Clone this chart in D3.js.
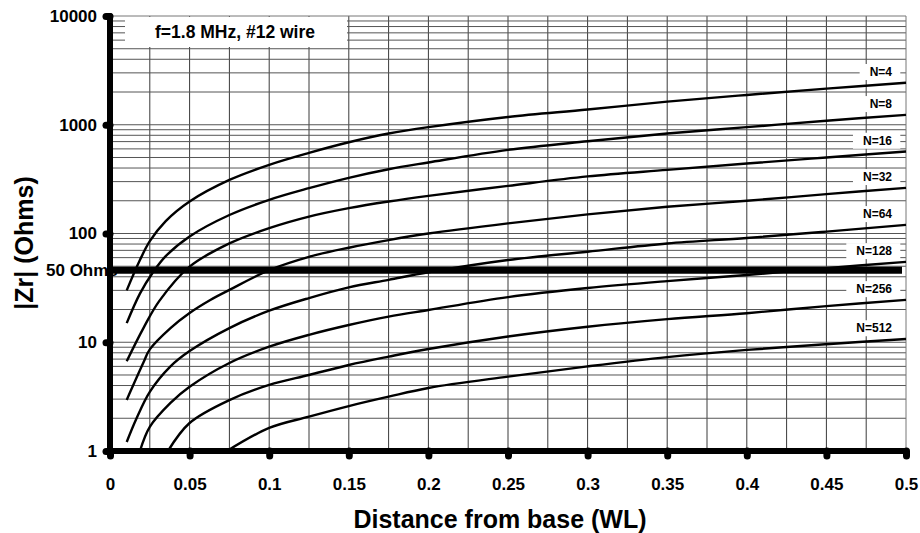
<!DOCTYPE html>
<html>
<head>
<meta charset="utf-8">
<script src="https://cdn.jsdelivr.net/npm/d3@7"></script>
<style>
  body { margin: 0; background: #fff; }
  text { font-family: "Liberation Sans", Arial, sans-serif; font-weight: bold; fill: #000; }
</style>
</head>
<body>
<script>
    // curves: [distance (WL), |Zr| (Ohms)]
    var n4 = [[0.0105,30],[0.0188,57],[0.025,85],[0.035,130],[0.05,197],[0.075,311],[0.1,428],[0.125,551],
              [0.15,690],[0.175,830],[0.2,950],[0.25,1180],[0.3,1380],[0.35,1630],[0.4,1880],[0.45,2150],[0.5,2430]];
    var n8 = [[0.0105,15],[0.0188,28],[0.027,44],[0.035,62],[0.05,94],[0.075,148],[0.1,204],[0.125,261],[0.15,325],
              [0.175,390],[0.2,450],[0.25,588],[0.3,705],[0.35,830],[0.4,950],[0.45,1090],[0.5,1233]];
    var n16 = [[0.0105,6.7],[0.021,13.5],[0.031,24],[0.05,49.6],[0.075,81],[0.1,112],[0.125,143],[0.15,171],
               [0.175,197],[0.2,222],[0.25,274],[0.3,335],[0.35,385],[0.4,440],[0.45,500],[0.5,567]];
    var n32 = [[0.0105,2.95],[0.021,6.5],[0.025,8.6],[0.038,13.5],[0.05,18.6],[0.063,24.5],[0.075,30.3],[0.1,46],
               [0.125,61],[0.15,74],[0.175,87],[0.2,100],[0.25,124],[0.3,150],[0.35,176],[0.4,200],[0.45,230],[0.5,263]];
    var n64 = [[0.0105,1.21],[0.0167,2.0],[0.025,3.5],[0.038,6.0],[0.05,8.3],[0.075,13.5],[0.1,19.5],[0.125,25.5],
               [0.15,32],[0.175,37.5],[0.2,44],[0.25,57],[0.3,68],[0.35,81],[0.4,91],[0.45,104],[0.5,120]];
    var n128 = [[0.0188,1],[0.025,1.67],[0.038,2.77],[0.05,3.9],[0.075,6.45],[0.1,9.1],[0.125,11.7],[0.15,14.4],
                [0.175,17.2],[0.2,19.8],[0.25,26],[0.3,31.5],[0.35,36.5],[0.4,41.5],[0.45,48],[0.5,54.8]];
    var n256 = [[0.0364,1],[0.05,1.81],[0.075,2.94],[0.1,4.05],[0.125,5.0],[0.15,6.18],[0.175,7.37],[0.2,8.67],
                [0.25,11.3],[0.3,13.9],[0.35,16.3],[0.4,18.5],[0.45,21.5],[0.5,24.5]];
    var n512 = [[0.0735,1],[0.1,1.63],[0.125,2.07],[0.15,2.59],[0.175,3.16],[0.2,3.8],[0.25,4.83],[0.3,6.0],
                [0.35,7.3],[0.4,8.5],[0.45,9.6],[0.5,10.7]];

    var seriesNames = ['N=4', 'N=8', 'N=16', 'N=32', 'N=64', 'N=128', 'N=256', 'N=512'];
    var seriesData = [n4, n8, n16, n32, n64, n128, n256, n512];

    var xTicks = [0, 0.05, 0.1, 0.15, 0.2, 0.25, 0.3, 0.35, 0.4, 0.45, 0.5];
    var yTicks = [1, 10, 100, 1000, 10000];
    var refLevel = 46;          // the heavy "50 Ohms" line, as drawn on the scan
    var refLabel = '50 Ohms';
    var chartTitle = 'f=1.8 MHz, #12 wire';

    // set the dimensions and margins of the graph
    var margin = {top: 16, right: 14, bottom: 82, left: 110},
        width = 920 - margin.left - margin.right,
        height = 533 - margin.top - margin.bottom;

    var x = d3.scaleLinear().domain([0, 0.5]).range([0, width]);
    var y = d3.scaleLog().domain([1, 10000]).range([height, 0]);

    var svg = d3.select('body').append('svg')
        .attr('width', width + margin.left + margin.right)
        .attr('height', height + margin.top + margin.bottom)
        .append('g')
        .attr('transform', 'translate(' + margin.left + ',' + margin.top + ')');

    // grid: verticals every 0.025, horizontals at 2..9 of each decade
    var xGrid = d3.range(1, 20).map(function (i) { return i * 0.025; });
    svg.append('g').selectAll('line').data(xGrid).enter().append('line')
        .attr('x1', function (d) { return x(d); })
        .attr('x2', function (d) { return x(d); })
        .attr('y1', 0).attr('y2', height)
        .style('stroke', '#3a3a3a').style('stroke-width', 1);

    var yGrid = [];
    [1, 10, 100, 1000].forEach(function (dec) {
        for (var m = 1; m <= 9; m++) { if (dec * m > 1) yGrid.push(dec * m); }
    });
    svg.append('g').selectAll('line').data(yGrid).enter().append('line')
        .attr('x1', 0).attr('x2', width)
        .attr('y1', function (d) { return y(d); })
        .attr('y2', function (d) { return y(d); })
        .style('stroke', '#555').style('stroke-width', 1);

    // top and right border
    svg.append('line').attr('x1', 0).attr('x2', width).attr('y1', 0).attr('y2', 0)
        .style('stroke', '#777').style('stroke-width', 1);
    svg.append('line').attr('x1', width).attr('x2', width).attr('y1', 0).attr('y2', height)
        .style('stroke', '#777').style('stroke-width', 1);

    // title box
    svg.append('rect').attr('x', 15).attr('y', 1).attr('width', 222).attr('height', 30).style('fill', '#fff');
    svg.append('text')
        .attr('x', 125).attr('y', 22)
        .attr('text-anchor', 'middle')
        .style('font-size', '17.5px')
        .text(chartTitle);

    var line = d3.line()
        .x(function (d) { return x(d[0]); })
        .y(function (d) { return y(d[1]); })
        .curve(d3.curveCatmullRom.alpha(0.5));

    // curve labels with white boxes behind them
    for (let i = 0; i < seriesData.length; i++) {
        var last = seriesData[i][seriesData[i].length - 1];
        var lbl = svg.append('text')
            .attr('x', width - 14)
            .attr('y', y(last[1]) - 11)
            .attr('dy', '0.35em')
            .attr('text-anchor', 'end')
            .style('font-size', '12px')
            .text(seriesNames[i]);
        var bb = lbl.node().getBBox();
        svg.insert('rect', 'text:last-of-type')
            .attr('x', bb.x - 10).attr('y', bb.y - 1)
            .attr('width', bb.width + 18).attr('height', bb.height + 2)
            .style('fill', '#fff');
    }

    for (let i = 0; i < seriesData.length; i++) {
        svg.append('path')
            .datum(seriesData[i])
            .style('fill', 'none')
            .style('stroke', '#000')
            .style('stroke-width', 2.4)
            .attr('d', line);
    }

    // 50 ohm reference line
    svg.append('line')
        .attr('x1', 0).attr('x2', width - 4)
        .attr('y1', y(refLevel)).attr('y2', y(refLevel))
        .style('stroke', '#000').style('stroke-width', 7);
    svg.append('text')
        .attr('x', -64).attr('y', y(refLevel))
        .attr('dy', '0.35em')
        .style('font-size', '17px')
        .text(refLabel);

    // heavy axes with round tick dots
    var xAxis = svg.append('g').attr('transform', 'translate(0,' + height + ')')
        .call(d3.axisBottom(x).tickValues(xTicks).tickSize(5).tickPadding(22)
            .tickFormat(function (d) { return d === 0 ? '0' : String(d); }));
    var yAxis = svg.append('g')
        .call(d3.axisLeft(y).tickValues(yTicks).tickSize(4).tickPadding(9)
            .tickFormat(d3.format('d')));

    [xAxis, yAxis].forEach(function (ax) {
        ax.select('.domain').remove();
        ax.selectAll('.tick line')
            .style('stroke', '#000').style('stroke-width', 7).style('stroke-linecap', 'round');
        ax.selectAll('.tick text')
            .style('font-family', '"Liberation Sans", Arial, sans-serif')
            .style('font-weight', 'bold')
            .style('font-size', '17px');
    });

    svg.append('line').attr('x1', 0).attr('x2', width).attr('y1', height).attr('y2', height)
        .style('stroke', '#000').style('stroke-width', 6).style('stroke-linecap', 'round');
    svg.append('line').attr('x1', 0).attr('x2', 0).attr('y1', 0).attr('y2', height)
        .style('stroke', '#000').style('stroke-width', 6).style('stroke-linecap', 'round');

    // axis titles
    svg.append('text')
        .attr('x', width / 2 - 8)
        .attr('y', height + 77)
        .attr('text-anchor', 'middle')
        .style('font-size', '25px')
        .text('Distance from base (WL)');

    svg.append('text')
        .attr('transform', 'rotate(270)')
        .attr('x', -(243 - margin.top))
        .attr('y', -77)
        .attr('text-anchor', 'middle')
        .style('font-size', '25px')
        .text('|Zr| (Ohms)');
</script>
</body>
</html>
